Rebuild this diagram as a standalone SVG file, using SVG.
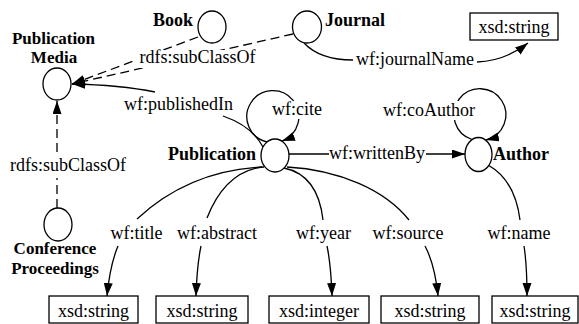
<svg xmlns="http://www.w3.org/2000/svg" width="579" height="324" viewBox="0 0 579 324">
<style>
.m{text-anchor:middle}
.b{font-weight:bold}
.n{fill:#fff;stroke:#000;stroke-width:1.3}
.e{fill:none;stroke:#000;stroke-width:1.3}
.d{stroke-dasharray:9 5}
.bg{fill:#fff;stroke:none}
</style>
<defs>
<marker id="a" markerUnits="userSpaceOnUse" markerWidth="14" markerHeight="10" refX="13" refY="4.5" orient="auto">
<path d="M0,0 L13,4.5 L0,9 z" fill="#000"/>
</marker>
</defs>
<g font-family="'Liberation Serif', 'Times New Roman', Times, serif" font-size="18" fill="#000">
<g id="connectors">
<path class="e d" d="M198 37 L72 84" marker-end="url(#a)"/>
<path class="e d" d="M293 34 L72 84" marker-end="url(#a)"/>
<path class="e d" d="M57 208 L57 101" marker-end="url(#a)"/>
<path class="e" d="M263 147 Q252 126 223 116"/>
<path class="e" d="M155 92 Q120 85 72 84" marker-end="url(#a)"/>
<path class="e" d="M304 43 Q320 60 353 60"/>
<path class="e" d="M477 62 Q505 61 528 43" marker-end="url(#a)"/>
<path class="e" d="M267 142 A26 26 0 1 1 282 141" marker-end="url(#a)"/>
<path class="e" d="M472 139.5 A26 26 0 1 1 486 140" marker-end="url(#a)"/>
<path class="e" d="M289 154 L329 154"/>
<path class="e" d="M426 154 L465 154" marker-end="url(#a)"/>
<path class="e" d="M264 167 Q190 170 137 219"/>
<path class="e" d="M118 246 Q110 265 107 296" marker-end="url(#a)"/>
<path class="e" d="M262 167 Q225 172 207 218"/>
<path class="e" d="M201 246 Q197 265 196 296" marker-end="url(#a)"/>
<path class="e" d="M284 168 Q318 175 323 220"/>
<path class="e" d="M327 246 Q331 265 332 296" marker-end="url(#a)"/>
<path class="e" d="M287 167 C340 170 385 190 409 220"/>
<path class="e" d="M425 246 Q435 265 438 296" marker-end="url(#a)"/>
<path class="e" d="M488 165 Q515 180 520 220"/>
<path class="e" d="M524 246 Q527 265 527 296" marker-end="url(#a)"/>
<rect class="bg" x="135" y="50" width="125" height="18"/>
<rect class="bg" x="6" y="157" width="124" height="21"/>
<rect class="bg" x="271" y="101" width="52" height="18"/>
<rect class="bg" x="382" y="101" width="97" height="19"/>
<text class="m" x="197.5" y="63">rdfs:subClassOf</text>
<text class="m" x="68" y="171">rdfs:subClassOf</text>
<text x="124" y="110">wf:publishedIn</text>
<text x="356" y="65">wf:journalName</text>
<text x="272" y="115">wf:cite</text>
<text x="383" y="116">wf:coAuthor</text>
<text x="329" y="159">wf:writtenBy</text>
<text class="m" x="136.5" y="239">wf:title</text>
<text class="m" x="217" y="239">wf:abstract</text>
<text class="m" x="323.5" y="239">wf:year</text>
<text class="m" x="408" y="239">wf:source</text>
<text class="m" x="519" y="239">wf:name</text>
</g>
<g id="book"><ellipse class="n" cx="212" cy="27" rx="14" ry="16"/><text class="b" x="153" y="26">Book</text></g>
<g id="journal"><ellipse class="n" cx="307" cy="27" rx="14.5" ry="16"/><text class="b" x="325" y="26">Journal</text></g>
<g id="publication-media"><ellipse class="n" cx="57" cy="84" rx="14" ry="16"/><text class="b m" x="53.5" y="43.5" font-size="17">Publication</text><text class="b m" x="54" y="63" font-size="17">Media</text></g>
<g id="conference-proceedings"><ellipse class="n" cx="58" cy="224.5" rx="14" ry="16.5"/><text class="b m" x="55" y="254" font-size="17">Conference</text><text class="b m" x="55" y="273.5" font-size="17">Proceedings</text></g>
<g id="publication"><ellipse class="n" cx="275" cy="155.5" rx="14" ry="16.5"/><text class="b" x="168" y="160">Publication</text></g>
<g id="author"><ellipse class="n" cx="478.5" cy="154.5" rx="13.5" ry="17"/><text class="b" x="493" y="160">Author</text></g>
<g id="journalname-string"><rect class="n" x="470" y="13" width="88" height="27"/><text class="m" x="514" y="33">xsd:string</text></g>
<g id="title-string"><rect class="n" x="49" y="296" width="89" height="27"/><text class="m" x="93.5" y="317">xsd:string</text></g>
<g id="abstract-string"><rect class="n" x="156" y="296" width="92" height="27"/><text class="m" x="202" y="317">xsd:string</text></g>
<g id="year-integer"><rect class="n" x="269" y="296" width="100" height="27"/><text class="m" x="319" y="317">xsd:integer</text></g>
<g id="source-string"><rect class="n" x="381" y="296" width="98" height="27"/><text class="m" x="430" y="317">xsd:string</text></g>
<g id="name-string"><rect class="n" x="492" y="296" width="86" height="27"/><text class="m" x="535" y="317">xsd:string</text></g>
</g>
</svg>
